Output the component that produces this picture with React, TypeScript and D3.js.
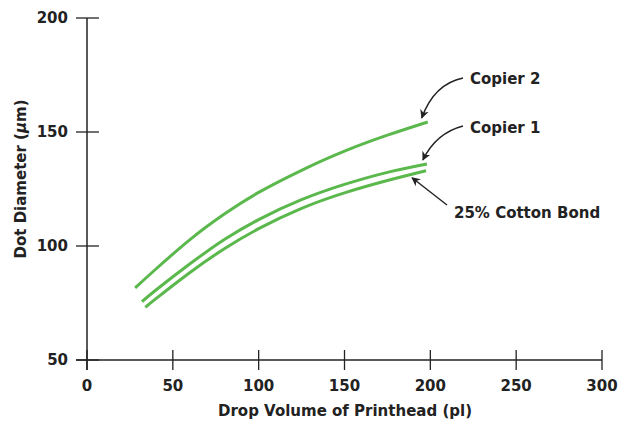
import React from "react";
import * as d3 from "d3";

const xTicks = [0, 50, 100, 150, 200, 250, 300];
const yTicks = [50, 100, 150, 200];

const copier2X = [28, 40, 60, 80, 100, 125, 150, 175, 198.5];
const copier2Y = [81.6, 89.8, 102.8, 114.0, 123.5, 133.2, 141.6, 148.6, 154.4];

const copier1X = [32, 40, 60, 80, 100, 125, 150, 175, 198];
const copier1Y = [75.6, 80.6, 92.2, 102.8, 111.6, 120.3, 127.0, 132.3, 136.0];

const cottonX = [34, 40, 60, 80, 100, 125, 150, 175, 197.5];
const cottonY = [73.1, 76.8, 88.4, 98.8, 107.6, 116.5, 123.3, 128.7, 133.0];

const seriesNames = ["Copier 2", "Copier 1", "25% Cotton Bond"];

const W = 624;
const H = 424;
const FONT = "'DejaVu Sans', Verdana, sans-serif";
const FS = 15;
const GREEN = "#5bb84c";
const INK = "#222";

export default function App() {
  const x = d3.scaleLinear().domain([0, 300]).range([87, 602]);
  const y = d3.scaleLinear().domain([50, 200]).range([360, 18]);

  const series = [
    { name: seriesNames[0], xs: copier2X, ys: copier2Y },
    { name: seriesNames[1], xs: copier1X, ys: copier1Y },
    { name: seriesNames[2], xs: cottonX, ys: cottonY },
  ];

  const line = d3
    .line<[number, number]>()
    .x((d) => x(d[0]))
    .y((d) => y(d[1]))
    .curve(d3.curveNatural);

  const end = (i: number) => {
    const s = series[i];
    const n = s.xs.length - 1;
    return [x(s.xs[n]), y(s.ys[n])];
  };
  const [e2x, e2y] = end(0);
  const [e1x, e1y] = end(1);
  const [ecx, ecy] = end(2);

  const annotations = [
    {
      label: seriesNames[0],
      tx: 470,
      ty: 84,
      path: `M463,78 Q434,84 ${e2x - 6},${e2y - 4}`,
    },
    {
      label: seriesNames[1],
      tx: 470,
      ty: 133,
      path: `M463,126 Q436,133 ${e1x - 4},${e1y - 4}`,
    },
    {
      label: seriesNames[2],
      tx: 454,
      ty: 218,
      path: `M447,205 L${ecx - 14},${ecy + 7}`,
    },
  ];

  const txt = {
    fontFamily: FONT,
    fontWeight: 700 as const,
    fontSize: FS,
    fill: INK,
  };

  return (
    <div style={{ position: "absolute", left: 0, top: 0 }}>
      <svg width={W} height={H} style={{ display: "block", background: "#fff" }}>
        <defs>
          <marker
            id="arrow"
            viewBox="0 0 10 10"
            refX="9"
            refY="5"
            markerWidth="9"
            markerHeight="9"
            markerUnits="userSpaceOnUse"
            orient="auto"
          >
            <path d="M0,0 L10,5 L0,10 L3,5 Z" fill={INK} />
          </marker>
        </defs>

        {/* axes */}
        <line x1={x(0)} x2={x(0)} y1={y(200)} y2={y(50) + 10} stroke={INK} strokeWidth={1.5} />
        <line x1={x(0) - 11} x2={x(300)} y1={y(50)} y2={y(50)} stroke={INK} strokeWidth={1.5} />
        {yTicks.map((t) => (
          <g key={"y" + t}>
            <line x1={x(0) - 11} x2={x(0) + 12} y1={y(t)} y2={y(t)} stroke={INK} strokeWidth={1.3} />
            <text x={68} y={y(t)} dy="0.36em" textAnchor="end" {...txt}>
              {t}
            </text>
          </g>
        ))}
        {xTicks.map((t) => (
          <g key={"x" + t}>
            <line x1={x(t)} x2={x(t)} y1={y(50) - 10} y2={y(50) + 10} stroke={INK} strokeWidth={1.3} />
            <text x={x(t)} y={391} textAnchor="middle" {...txt}>
              {t}
            </text>
          </g>
        ))}
        <text x={345} y={416} textAnchor="middle" {...txt}>
          Drop Volume of Printhead (pl)
        </text>
        <text transform={`translate(26,179) rotate(-90)`} textAnchor="middle" {...txt}>
          Dot Diameter (<tspan fontStyle="italic">μ</tspan>m)
        </text>

        {/* series */}
        {series.map((s) => (
          <path
            key={s.name}
            d={line(s.xs.map((v, i) => [v, s.ys[i]] as [number, number])) || ""}
            fill="none"
            stroke={GREEN}
            strokeWidth={3}
          />
        ))}

        {/* annotations */}
        {annotations.map((a) => (
          <g key={a.label}>
            <path d={a.path} fill="none" stroke={INK} strokeWidth={1.4} markerEnd="url(#arrow)" />
            <text x={a.tx} y={a.ty} {...txt}>
              {a.label}
            </text>
          </g>
        ))}
      </svg>
    </div>
  );
}
